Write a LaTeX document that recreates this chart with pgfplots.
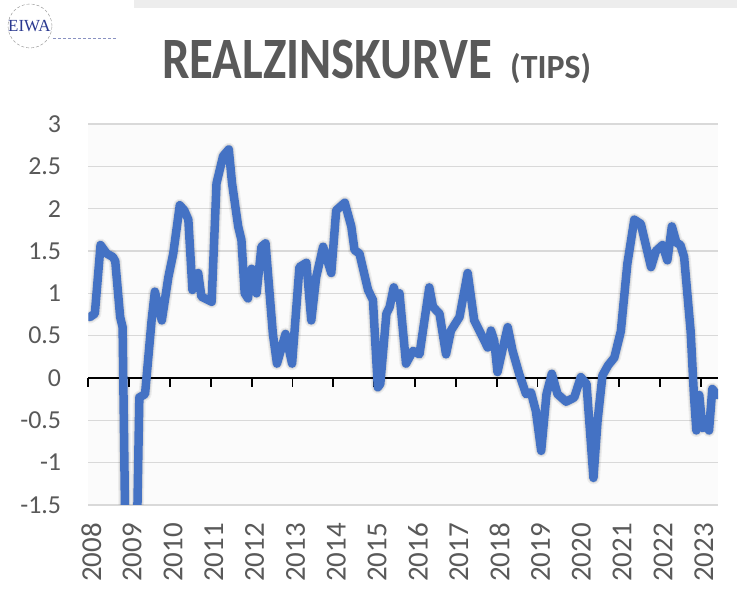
\documentclass[border=0pt]{standalone}
\usepackage{pgfplots}
\usepackage{pgfplotstable}
\pgfplotsset{compat=1.18}
\usepackage{fontspec}
\setmainfont{Carlito}
\newfontfamily\logofont{Liberation Serif}
\definecolor{linblue}{HTML}{4472C4}
\definecolor{txtgray}{HTML}{595959}
\definecolor{gridgray}{HTML}{D9D9D9}
\definecolor{logoblue}{HTML}{2B3990}

\pgfplotstableread{
x y
2008.04 0.72
2008.16 0.76
2008.30 1.57
2008.45 1.47
2008.60 1.43
2008.66 1.38
2008.78 0.72
2008.84 0.60
2008.90 -1.60
2008.92 -3.00
2009.18 -3.00
2009.20 -1.60
2009.25 -0.23
2009.39 -0.19
2009.55 0.68
2009.63 1.02
2009.80 0.68
2009.96 1.19
2010.08 1.47
2010.24 2.04
2010.35 1.98
2010.45 1.87
2010.55 1.04
2010.69 1.24
2010.77 0.96
2011.02 0.90
2011.14 2.30
2011.30 2.62
2011.44 2.70
2011.52 2.30
2011.67 1.79
2011.75 1.63
2011.83 1.00
2011.91 0.94
2012.00 1.29
2012.12 1.00
2012.24 1.55
2012.34 1.59
2012.52 0.52
2012.62 0.17
2012.83 0.52
2012.99 0.17
2013.17 1.31
2013.34 1.36
2013.46 0.68
2013.58 1.19
2013.75 1.55
2013.95 1.24
2014.07 1.98
2014.28 2.07
2014.44 1.79
2014.52 1.51
2014.64 1.47
2014.85 1.04
2014.97 0.92
2015.09 -0.11
2015.15 -0.07
2015.30 0.76
2015.38 0.84
2015.48 1.07
2015.55 0.95
2015.62 1.00
2015.78 0.17
2015.95 0.32
2016.11 0.28
2016.35 1.07
2016.44 0.84
2016.60 0.76
2016.76 0.28
2016.88 0.56
2017.09 0.72
2017.29 1.24
2017.45 0.68
2017.66 0.48
2017.78 0.36
2017.86 0.56
2017.94 0.44
2018.02 0.07
2018.15 0.35
2018.27 0.60
2018.39 0.32
2018.55 0.05
2018.72 -0.19
2018.84 -0.17
2018.96 -0.39
2019.09 -0.86
2019.22 -0.19
2019.35 0.05
2019.49 -0.19
2019.70 -0.28
2019.90 -0.23
2020.06 0.01
2020.20 -0.07
2020.37 -1.18
2020.47 -0.51
2020.59 0.03
2020.73 0.15
2020.88 0.24
2021.04 0.55
2021.20 1.35
2021.37 1.87
2021.53 1.82
2021.78 1.31
2021.90 1.50
2022.06 1.57
2022.18 1.39
2022.29 1.79
2022.40 1.60
2022.50 1.57
2022.59 1.43
2022.75 0.55
2022.83 -0.20
2022.89 -0.62
2022.96 -0.20
2023.04 -0.59
2023.12 -0.52
2023.20 -0.62
2023.28 -0.13
2023.40 -0.20
}\realdata

\pgfplotsset{
  commongeom/.style={
    at={(88.3bp,85bp)}, anchor=south west,
    scale only axis, width=629.7bp, height=381bp,
    xmin=2008, xmax=2023.42, ymin=-1.5, ymax=3,
  }
}

\begin{document}
\begin{tikzpicture}[x=1bp,y=1bp]
\useasboundingbox (0,0) rectangle (737,590);
\fill[white] (0,0) rectangle (737,590);
\fill[black!7] (134,582) rectangle (737,590);
\fill[black!1.5] (88.3,85) rectangle (718,466);
% logo
\draw[black!45, densely dashed, line width=0.4bp] (30,564) circle (22);
\node[anchor=base west, inner sep=0pt, text=logoblue, font=\logofont\fontsize{17}{17}\selectfont] at (8,558) {EIWA};
\draw[logoblue!55, dash pattern=on 3bp off 2bp, line width=0.8bp] (53,552) -- (118,552);
% title
\node[anchor=base west, inner sep=0pt, text=txtgray, font=\bfseries\fontsize{49}{49}\selectfont, yscale=1.2] at (162,511) {REALZINSKURVE};
\node[anchor=base west, inner sep=0pt, text=txtgray, font=\bfseries\fontsize{34}{34}\selectfont] at (510,511) {(TIPS)};

% grid and tick labels
\begin{axis}[commongeom,
  axis line style={draw=none},
  ytick={-1.5,-1,-0.5,0,0.5,1,1.5,2,2.5,3},
  yticklabels={-1.5,-1,-0.5,0,0.5,1,1.5,2,2.5,3},
  ymajorgrids, grid style={gridgray, line width=1.6bp},
  xtick={2008,2009,2010,2011,2012,2013,2014,2015,2016,2017,2018,2019,2020,2021,2022,2023},
  xticklabels={2008,2009,2010,2011,2012,2013,2014,2015,2016,2017,2018,2019,2020,2021,2022,2023},
  major tick length=0pt, tick style={draw=none},
  yticklabel style={anchor=east, inner sep=0pt, xshift=-27bp, text=txtgray, font=\fontsize{26}{26}\selectfont},
  xticklabel style={xshift=3bp, yshift=-18bp, rotate=90, anchor=east, inner sep=0pt, text=txtgray, font=\fontsize{29}{29}\selectfont},
]
\addplot[draw=none] coordinates {(2010,0)};
\end{axis}

% zero line with ticks
\begin{axis}[commongeom,
  axis x line*=middle, axis y line=none,
  xtick={2008,2009,2010,2011,2012,2013,2014,2015,2016,2017,2018,2019,2020,2021,2022,2023},
  xticklabels={}, ytick=\empty,
  tick align=outside, major tick length=9bp,
  tick style={black, line width=1.8bp},
  axis line style={black, line width=2bp},
]
\addplot[draw=none] coordinates {(2010,0)};
\end{axis}

% data
\begin{axis}[commongeom, hide axis]
\addplot[black, opacity=0.06, line width=13bp, line join=round, line cap=round] table {\realdata};
\addplot[black, opacity=0.08, line width=10.5bp, line join=round, line cap=round] table {\realdata};
\addplot[linblue, line width=8.5bp, line join=round, line cap=round] table {\realdata};
\end{axis}
\end{tikzpicture}
\end{document}
